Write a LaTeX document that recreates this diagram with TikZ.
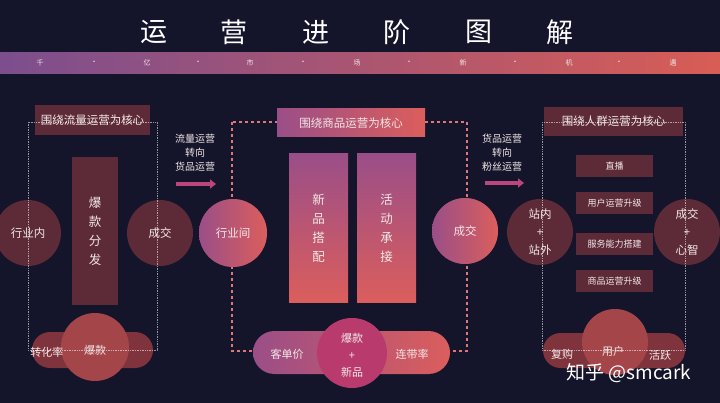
\documentclass[tikz,border=0pt]{standalone}
\usepackage{fontspec}
\setmainfont{Noto Sans CJK SC}
\usepackage{tikz}
\usetikzlibrary{positioning, arrows.meta, backgrounds}
\definecolor{bgnavy}{HTML}{14142A}
\definecolor{maroon}{HTML}{5C2B37}
\definecolor{mauve}{HTML}{9A4E88}
\definecolor{coral}{HTML}{DB5E5C}
\definecolor{bandl}{HTML}{7C4E8E}
\definecolor{bandr}{HTML}{D85D55}
\definecolor{pinkarr}{HTML}{BC457B}
\definecolor{pillred}{HTML}{7F333C}
\definecolor{discred}{HTML}{A4454A}
\definecolor{magent}{HTML}{B93B6D}
\definecolor{paletxt}{HTML}{F3E8E8}
\tikzstyle{ttl}=[text=white, font=\fontsize{27}{30}\selectfont, inner sep=0pt]
\tikzstyle{bnd}=[text=paletxt, font=\fontsize{7}{8}\selectfont, inner sep=0pt]
\tikzstyle{hdr}=[fill=maroon, text=paletxt, inner sep=0pt, font=\fontsize{11.5}{13}\selectfont]
\tikzstyle{disc}=[circle, fill=maroon, minimum size=66pt, inner sep=0pt, text=paletxt, align=center, font=\fontsize{11.5}{18}\selectfont]
\tikzstyle{bar}=[fill=maroon, inner sep=0pt, text=paletxt, align=center, font=\fontsize{12.5}{19}\selectfont]
\tikzstyle{tag}=[fill=maroon, minimum width=77pt, minimum height=22pt, inner sep=0pt, text=paletxt, font=\fontsize{9}{10}\selectfont]
\tikzstyle{pill}=[inner sep=0pt]
\tikzstyle{lbl}=[text=paletxt, inner sep=0pt, align=center, font=\fontsize{11}{13}\selectfont]
\tikzstyle{note}=[text=paletxt, inner sep=0pt, align=center, font=\fontsize{10}{14}\selectfont]
\tikzstyle{fatarrow}=[pinkarr, line width=4pt, -{Triangle[width=9pt, length=6pt]}]
\tikzstyle{dotframe}=[white, opacity=.55, densely dotted, line width=.7pt]
\tikzstyle{dashframe}=[coral!85!white, dashed, line width=1.3pt]

\begin{document}
\begin{tikzpicture}[x=1pt, y=-1pt]
\useasboundingbox (0,0) rectangle (720,403);
\fill[bgnavy] (0,0) rectangle (720,403);
% title
\node[ttl] (t1) at (154,32) {运};
\node[ttl] (t2) at (234,32) {营};
\node[ttl] (t3) at (316,32) {进};
\node[ttl] (t4) at (397,32) {阶};
\node[ttl] (t5) at (479,32) {图};
\node[ttl] (t6) at (560,32) {解};
% band
\shade[left color=bandl, right color=bandr] (0,53) rectangle (720,74);
\node[bnd] (b1) at (40,63) {千};
\node[bnd] (d1) at (94,63) {•};
\node[bnd] (b2) at (147,63) {亿};
\node[bnd] (d2) at (198,63) {•};
\node[bnd] (b3) at (250,63) {市};
\node[bnd] (d3) at (303,63) {•};
\node[bnd] (b4) at (357,63) {场};
\node[bnd] (d4) at (409,63) {•};
\node[bnd] (b5) at (463,63) {新};
\node[bnd] (d5) at (515,63) {•};
\node[bnd] (b6) at (569,63) {机};
\node[bnd] (d6) at (619,63) {•};
\node[bnd] (b7) at (673,63) {遇};
%
\draw[dashframe] (232,122) rectangle (467,351);
%
% traffic stage
\node[hdr, minimum width=115pt, minimum height=30pt] (h1) at (92.5,120) {围绕流量运营为核心};
\node[bar, minimum width=46pt, minimum height=148pt] (hot) at (95,231.5) {爆\\款\\分\\发};
\node[disc] (inner) at (28,233) {行业内};
\node[disc] (deal1) at (160,233) {成交};
\node[pill, fill=pillred, minimum width=121pt, minimum height=36pt, rounded corners=18pt] (p1) at (92.5,350) {};
\node[disc, fill=discred, minimum size=68pt] (c1) at (95,347) {};
\node[lbl] (conv) at (47,352) {转化率};
\node[lbl] (boom) at (95,350) {爆款};
%
\node[note] (n1) at (195,153) {流量运营\\转向\\货品运营};
\coordinate (a1s) at (176,184);
\coordinate (a1e) at (216,184);
\draw[fatarrow] (a1s) -- (a1e);
%
% goods stage
\node[hdr, minimum width=148pt, minimum height=28pt, left color=mauve, right color=coral] (h2) at (351,123) {围绕商品运营为核心};
\node[disc, left color=mauve, right color=coral, minimum size=68pt] (cross) at (233,233) {行业间};
\node[bar, minimum width=59pt, minimum height=149pt, top color=mauve, bottom color=coral] (newp) at (318.5,228.5) {新\\品\\搭\\配};
\node[bar, minimum width=59pt, minimum height=149pt, top color=mauve, bottom color=coral] (act) at (386.5,228.5) {活\\动\\承\\接};
\node[disc, left color=mauve, right color=coral] (deal2) at (465,231) {成交};
\node[pill, left color=mauve, right color=coral, minimum width=197pt, minimum height=43pt, rounded corners=21.5pt] (p2) at (351.5,352.5) {};
\node[disc, fill=magent, minimum size=70pt] (c2) at (352,353) {};
\node[lbl] (price) at (287,354) {客单价};
\node[lbl] (joint) at (412,354) {连带率};
\node[lbl, font=\fontsize{11}{17}\selectfont] (mix) at (352,355) {爆款\\+\\新品};
%
\node[note] (n2) at (502,153) {货品运营\\转向\\粉丝运营};
\coordinate (a2s) at (485,183);
\coordinate (a2e) at (524,183);
\draw[fatarrow] (a2s) -- (a2e);
%
% people stage
\node[hdr, minimum width=139pt, minimum height=29pt] (h3) at (613.5,121.5) {围绕人群运营为核心};
\node[disc] (site) at (540,232) {站内\\+\\站外};
\node[tag] (live) at (614.5,166) {直播};
\node[tag] (user) at (614.5,203.5) {用户运营升级};
\node[tag] (serv) at (614.5,244) {服务能力搭建};
\node[tag] (goods) at (614.5,281) {商品运营升级};
\node[disc] (mind) at (687,232) {成交\\+\\心智};
\node[pill, fill=pillred, minimum width=142pt, minimum height=35pt, rounded corners=17.5pt] (p3) at (614,350.5) {};
\node[disc, fill=discred, minimum size=66pt] (c3) at (615,342) {};
\node[lbl] (rebuy) at (562,354) {复购};
\node[lbl] (users) at (613,351) {用户};
\node[lbl] (alive) at (660,355) {活跃};
%
\draw[dotframe] (28,122) rectangle (157,350);
\draw[dotframe] (542,122) rectangle (685,350);
%
\node[text=white, inner sep=0pt, font=\fontsize{19}{21}\selectfont] (mark) at (629,373) {知乎 @smcark};
\end{tikzpicture}
\end{document}
